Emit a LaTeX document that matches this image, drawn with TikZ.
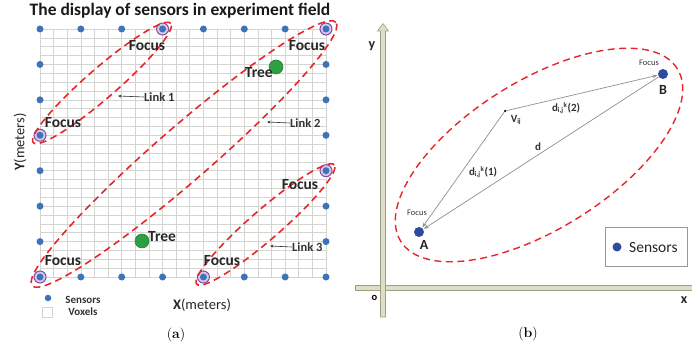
\documentclass[tikz,border=0pt]{standalone}
\usepackage{fontspec}
\newfontfamily\cfont{Carlito}
\usetikzlibrary{arrows.meta}
\definecolor{sblue}{HTML}{3E73B8}
\definecolor{dblue}{HTML}{2C4C9C}
\definecolor{fpurple}{HTML}{7B4FA0}
\definecolor{flav}{HTML}{D9C8EA}
\definecolor{tgreen}{HTML}{2EA043}
\definecolor{tgreend}{HTML}{1E7A2E}
\definecolor{ered}{HTML}{E8262A}
\definecolor{gridc}{HTML}{D4D4D0}
\definecolor{axfill}{HTML}{DEDEC6}
\definecolor{axline}{HTML}{A0A088}
\definecolor{vecc}{HTML}{8E8E8E}
\tikzset{
  sensor/.style={circle,fill=sblue,inner sep=0pt,minimum size=7pt},
  focusring/.style={circle,fill=flav,draw=fpurple,line width=1pt,inner sep=0pt,minimum size=12pt},
  tree/.style={circle,fill=tgreen,draw=tgreend,line width=0.5pt,inner sep=0pt,minimum size=14pt},
  gridline/.style={draw=gridc,line width=0.7pt},
  linkell/.style={draw=ered,line width=1.6pt,dash pattern=on 7pt off 4.5pt},
  lbl/.style={font=\cfont\bfseries\fontsize{15.5}{17}\selectfont,inner sep=0pt,text=black!85},
  linklbl/.style={font=\cfont\bfseries\fontsize{12.5}{14}\selectfont,inner sep=0pt,text=black!80},
  linkarr/.style={draw=black!80,line width=0.6pt,-{Stealth[length=3.5pt,width=3pt]}},
  capt/.style={font=\fontsize{14}{16}\selectfont,inner sep=0pt},
  axisbar/.style={fill=axfill,draw=axline,line width=0.6pt},
  vec/.style={draw=vecc,line width=0.7pt,-{Stealth[length=5pt,width=3.5pt]},shorten >=0.5pt},
  bdot/.style={circle,fill=dblue,inner sep=0pt,minimum size=10pt},
  small/.style={font=\cfont\fontsize{8.5}{10}\selectfont,inner sep=0pt,text=black!80},
  blbl/.style={font=\cfont\bfseries\fontsize{14}{16}\selectfont,inner sep=0pt,text=black!85},
  mlbl/.style={font=\cfont\bfseries\fontsize{11}{13}\selectfont,inner sep=0pt,text=black!80},
}
\begin{document}
\begin{tikzpicture}[x=1pt,y=-1pt]
\useasboundingbox (0,0) rectangle (692,352);
% ---------------- panel (a) ----------------
\node[font=\cfont\bfseries\fontsize{17.5}{19}\selectfont,inner sep=0pt,text=black!90] (title) at (180,11) {The display of sensors in experiment field};
% grid (voxels)
\foreach \i in {0,...,21} \draw[gridline] ({40+\i*13.619},29) -- ({40+\i*13.619},277);
\foreach \j in {0,...,28} \draw[gridline] (40,{29+\j*8.857}) -- (326,{29+\j*8.857});
% sensors
\foreach \i in {0,1,2,4,5,6} \node[sensor] (t\i) at ({40+\i*40.857},29) {};
\foreach \i in {1,2,3,5,6,7} \node[sensor] (b\i) at ({40+\i*40.857},277) {};
\foreach \j in {1,2,4,5,6} \node[sensor] (l\j) at (40,{29+\j*35.429}) {};
\foreach \j in {1,2,3,5,6} \node[sensor] (r\j) at (326,{29+\j*35.429}) {};
% focus sensors
\foreach \n/\px/\py in {f1/162.57/29, f2/326/29, f3/40/135.29, f4/326/170.71, f5/40/277, f6/203.43/277}{
  \node[focusring] (\n) at (\px,\py) {};
  \node[sensor] (\n c) at (\px,\py) {};
}
% ellipses
\coordinate (e1) at (102,83);
\coordinate (e2) at (184,154);
\coordinate (e3) at (265.5,224.5);
\draw[linkell,rotate around={40.93:(e1)}] (e1) ellipse [x radius=91pt,y radius=15pt];
\draw[linkell,rotate around={40.93:(e2)}] (e2) ellipse [x radius=201pt,y radius=27pt];
\draw[linkell,rotate around={40.93:(e3)}] (e3) ellipse [x radius=91pt,y radius=15pt];
% trees
\node[tree] (tree1) at (276,67) {};
\node[tree] (tree2) at (142,241) {};
\node[lbl,anchor=east] (tree1l) at (273,73) {Tree};
\node[lbl,anchor=west] (tree2l) at (148,237) {Tree};
% focus labels
\node[lbl] (fl1) at (147,46) {Focus};
\node[lbl] (fl2) at (307,46) {Focus};
\node[lbl] (fl3) at (63,123) {Focus};
\node[lbl] (fl4) at (300,185) {Focus};
\node[lbl] (fl5) at (63,261) {Focus};
\node[lbl] (fl6) at (222,261) {Focus};
% link labels
\node[linklbl,anchor=west] (lk1) at (144,97) {Link 1};
\node[linklbl,anchor=west] (lk2) at (290,123) {Link 2};
\node[linklbl,anchor=west] (lk3) at (292,247) {Link 3};
\coordinate (lk1t) at (118,96);
\coordinate (lk2t) at (267,122);
\coordinate (lk3t) at (270,246);
\draw[linkarr] (lk1.west) -- (lk1t);
\draw[linkarr] (lk2.west) -- (lk2t);
\draw[linkarr] (lk3.west) -- (lk3t);
% axis labels
\node[font=\cfont\fontsize{14.5}{16}\selectfont,inner sep=0pt,rotate=90,text=black!85] (ylab) at (20,142) {\textbf{Y}(meters)};
\node[font=\cfont\fontsize{14.5}{16}\selectfont,inner sep=0pt,text=black!85] (xlab) at (202,305) {\textbf{X}(meters)};
% legend (a)
\node[sensor,minimum size=6.5pt] (lgs) at (48,298) {};
\node[draw=gridc,line width=0.7pt,minimum size=10pt,inner sep=0pt] (lgv) at (47.5,312) {};
\node[font=\cfont\bfseries\fontsize{11}{12}\selectfont,inner sep=0pt,text=black!80] (lgst) at (83,300) {Sensors};
\node[font=\cfont\bfseries\fontsize{11}{12}\selectfont,inner sep=0pt,text=black!80] (lgvt) at (83,312) {Voxels};
\node[capt] (capa) at (176,335) {(\textbf{a})};
% ---------------- panel (b) ----------------
% x axis
\path[axisbar] (355,285.5) rectangle (692,290.5);
% y axis with hollow arrow
\path[axisbar] (380.5,317) -- (380.5,31) -- (377.5,31) -- (383,23.5) -- (388.5,31) -- (385.5,31) -- (385.5,317) -- cycle;
\node[font=\cfont\bfseries\fontsize{10.5}{12}\selectfont,inner sep=0pt] (orig) at (374.5,298) {o};
\node[blbl] (xax) at (684,300) {x};
\node[blbl] (yax) at (372,46) {y};
% ellipse
\coordinate (eb) at (539,155);
\draw[linkell,line width=1.4pt,rotate around={32:(eb)}] (eb) ellipse [x radius=163pt,y radius=74pt];
% points
\node[bdot] (A) at (419,232) {};
\node[bdot] (B) at (663,74) {};
\node[circle,fill=black,inner sep=0pt,minimum size=2.5pt] (V) at (505,111) {};
\draw[vec] (V) -- (A);
\draw[vec] (V) -- (B);
\draw[vec] (B) -- (A);
\node[small] (fa) at (417,213) {Focus};
\node[small] (fb) at (649,63) {Focus};
\node[blbl] (Al) at (424,245) {A};
\node[blbl] (Bl) at (663,90) {B};
\node[mlbl] (Vl) at (516,120) {V\textsubscript{\fontsize{7}{8}\selectfont ij}};
\node[mlbl] (d2) at (566,108) {d\textsubscript{\fontsize{7}{8}\selectfont i,j}\textsuperscript{\fontsize{7}{8}\selectfont k}(2)};
\node[mlbl] (d) at (538,147) {d};
\node[mlbl] (d1) at (483,172) {d\textsubscript{\fontsize{7}{8}\selectfont i,j}\textsuperscript{\fontsize{7}{8}\selectfont k}(1)};
% legend (b)
\node[draw=black!40,line width=0.6pt,minimum width=82pt,minimum height=39pt,inner sep=0pt] (lgb) at (646,246.5) {};
\node[bdot,minimum size=9pt] (lgbd) at (617,247) {};
\node[font=\cfont\fontsize{15.5}{17}\selectfont,inner sep=0pt,anchor=west,text=black!85] (lgbt) at (629,247.5) {Sensors};
\node[capt] (capb) at (528,334) {(\textbf{b})};
\end{tikzpicture}
\end{document}
